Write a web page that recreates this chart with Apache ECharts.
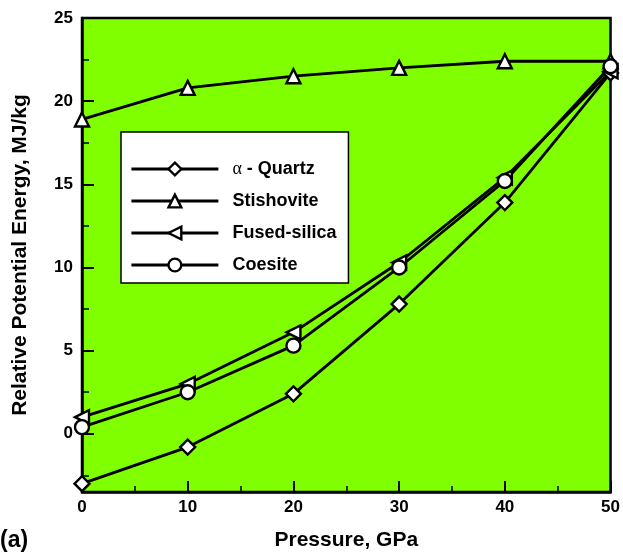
<!DOCTYPE html>
<html>
<head>
<meta charset="utf-8">
<script src="https://cdn.jsdelivr.net/npm/echarts@6/dist/echarts.min.js"></script>
<style>
html,body{margin:0;padding:0;background:#fff;}
#c{width:623px;height:556px;}
</style>
</head>
<body>
<div id="c"></div>
<script>
var pressure = [0, 10, 20, 30, 40, 50];
var quartz = [-3.0, -0.8, 2.4, 7.8, 13.9, 21.7];
var stishovite = [18.9, 20.8, 21.5, 22.0, 22.4, 22.4];
var fusedSilica = [1.0, 3.0, 6.1, 10.3, 15.4, 21.8];
var coesite = [0.4, 2.5, 5.3, 10.0, 15.2, 22.1];
var yMajorTicks = [0, 5, 10, 15, 20, 25];
var yMinorTicks = [-2.5, 2.5, 7.5, 12.5, 17.5, 22.5];
var seriesNames = ['α - Quartz', 'Stishovite', 'Fused-silica', 'Coesite'];

function pairs(ys) { return pressure.map(function (x, i) { return [x, ys[i]]; }); }

var font = '"Liberation Sans", Arial, sans-serif';
var chart = echarts.init(document.getElementById('c'), null, {renderer: 'canvas'});

function mkSeries(name, data, symbol, rot) {
  return {
    name: name, type: 'line', data: pairs(data),
    symbol: symbol, symbolSize: symbol === 'diamond' ? 15 : 14, symbolRotate: rot || 0,
    showAllSymbol: true,
    lineStyle: {color: '#000', width: 2.8},
    itemStyle: {color: '#fff', borderColor: '#000', borderWidth: 2.4},
    emphasis: {disabled: true},
    z: 3
  };
}

chart.setOption({
  animation: false,
  backgroundColor: '#fff',
  grid: {left: 82, right: 11, top: 18, bottom: 59, show: true,
         backgroundColor: '#80FF00', borderColor: '#000', borderWidth: 2.5},
  xAxis: {
    type: 'value', min: 0, max: 50, interval: 10,
    name: 'Pressure, GPa', nameLocation: 'middle', nameGap: 38,
    nameTextStyle: {fontFamily: font, fontWeight: 'bold', fontSize: 21, color: '#000'},
    axisLine: {show: true, onZero: false, lineStyle: {color: '#000', width: 2.5}},
    axisTick: {show: true, inside: true, length: 11, lineStyle: {color: '#000', width: 2}},
    minorTick: {show: true, splitNumber: 2, length: 6, lineStyle: {color: '#000', width: 1.5}},
    axisLabel: {fontFamily: font, fontWeight: 'bold', fontSize: 17, color: '#000', margin: 7},
    splitLine: {show: false}
  },
  yAxis: [{
    type: 'value', min: -3.5, max: 25, position: 'left',
    name: 'Relative Potential Energy, MJ/kg', nameLocation: 'middle', nameGap: 51,
    nameTextStyle: {fontFamily: font, fontWeight: 'bold', fontSize: 21, color: '#000'},
    axisLine: {show: true, onZero: false, lineStyle: {color: '#000', width: 2.5}},
    axisTick: {show: true, inside: true, length: 12, customValues: yMajorTicks, lineStyle: {color: '#000', width: 2}},
    axisLabel: {customValues: yMajorTicks, fontFamily: font, fontWeight: 'bold', fontSize: 17, color: '#000', margin: 9},
    splitLine: {show: false}
  }, {
    type: 'value', min: -3.5, max: 25, position: 'left',
    axisLine: {show: false, onZero: false},
    axisTick: {show: true, inside: true, length: 7, customValues: yMinorTicks, lineStyle: {color: '#000', width: 1.5}},
    axisLabel: {show: false},
    splitLine: {show: false}
  }],
  legend: {
    data: seriesNames, orient: 'vertical', left: 121, top: 132,
    itemWidth: 87, itemHeight: 16, itemGap: 14,
    padding: [28, 12, 9, 9],
    backgroundColor: '#fff', borderColor: '#000', borderWidth: 1.5, borderRadius: 0,
    selectedMode: false,
    lineStyle: {width: 2.8, color: '#000'},
    itemStyle: {borderWidth: 2.4, borderColor: '#000', color: '#fff'},
    textStyle: {fontFamily: font, fontWeight: 'bold', fontSize: 18, color: '#000', padding: [0, 0, 0, 9],
                rich: {al: {fontFamily: 'serif', fontWeight: 'normal', fontSize: 18, color: '#000'}}},
    formatter: function (n) { return n.charAt(0) === 'α' ? '{al|α}' + n.slice(1) : n; }
  },
  graphic: [{type: 'text', left: 0, top: 529, style: {text: '(a)', font: 'bold 23px ' + font, fill: '#000'}}],
  series: [
    mkSeries(seriesNames[0], quartz, 'diamond'),
    mkSeries(seriesNames[1], stishovite, 'triangle'),
    mkSeries(seriesNames[2], fusedSilica, 'triangle', 90),
    mkSeries(seriesNames[3], coesite, 'circle')
  ]
});
</script>
</body>
</html>
